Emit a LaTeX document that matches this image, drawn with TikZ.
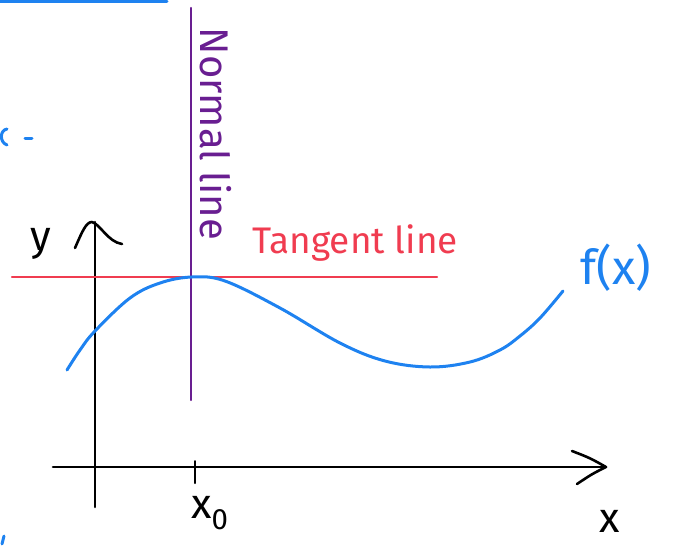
\documentclass[tikz,border=0pt]{standalone}
\usepackage{fontspec}
\setmainfont{Fira Sans}
\definecolor{cblue}{RGB}{30,130,240}
\definecolor{cpurple}{RGB}{105,30,145}
\definecolor{cred}{RGB}{240,60,80}
\begin{document}
\begin{tikzpicture}[x=1pt,y=-1pt,line cap=round,line join=round,
  axisline/.style={black,line width=2.6pt},
  curveline/.style={cblue,line width=3pt},
  normalline/.style={cpurple,line width=2.4pt},
  tangentline/.style={cred,line width=2.4pt},
  lbl/.style={inner sep=0pt,font=\fontsize{42}{44}\selectfont}]
\useasboundingbox (0,0) rectangle (675,547);
% stray marks
\draw[curveline] (0,1) -- (167,1);
\draw[curveline] (7,129) .. controls (0,130) and (-1,142) .. (7,145);
\draw[curveline] (25,138) -- (32,138);
\draw[curveline] (4,536) -- (2,544);
% coordinates
\coordinate (yb) at (95,507);
\coordinate (yt) at (95,222);
\coordinate (xl) at (53,467);
\coordinate (xr) at (606,467);
\coordinate (nt) at (191,8);
\coordinate (nb) at (191,400);
\coordinate (tl) at (12,277);
\coordinate (tr) at (437,277);
\coordinate (tk1) at (195,461);
\coordinate (tk2) at (195,483);
% axes
\draw[axisline] (yb) -- (yt);
\draw[axisline] (75,248) .. controls (82,232) and (86,222) .. (92,222) .. controls (100,224) and (108,242) .. (122,244);
\draw[axisline] (xl) -- (xr);
\draw[axisline] (572,451) .. controls (590,458) .. (xr) .. controls (592,474) .. (577,484);
\draw[axisline,line width=2pt] (tk1) -- (tk2);
% lines
\draw[normalline] (nt) -- (nb);
\draw[tangentline] (tl) -- (tr);
% curve
\draw[curveline] plot[smooth,tension=0.6] coordinates {(67,370) (80,350) (95,331) (130,298) (160,283) (192,277) (225,281) (280,308) (340,343) (385,361) (430,367) (470,362) (500,350) (520,336) (540,318) (563,291)};
% labels
\node[lbl,text=cpurple,rotate=-90,font=\fontsize{40}{42}\selectfont] (nlab) at (216,134) {Normal line};
\node[lbl,text=cred,font=\fontsize{37}{39}\selectfont] (tlab) at (355,243) {Tangent line};
\node[lbl,text=black] (ylab) at (41,244) {y};
\node[lbl,text=cblue,font=\fontsize{48}{50}\selectfont] (flab) at (616,268) {f(x)};
\node[lbl,text=black] (x0lab) at (210,513) {x\textsubscript{0}};
\node[lbl,text=black] (xlab) at (610,521) {x};
\end{tikzpicture}
\end{document}
